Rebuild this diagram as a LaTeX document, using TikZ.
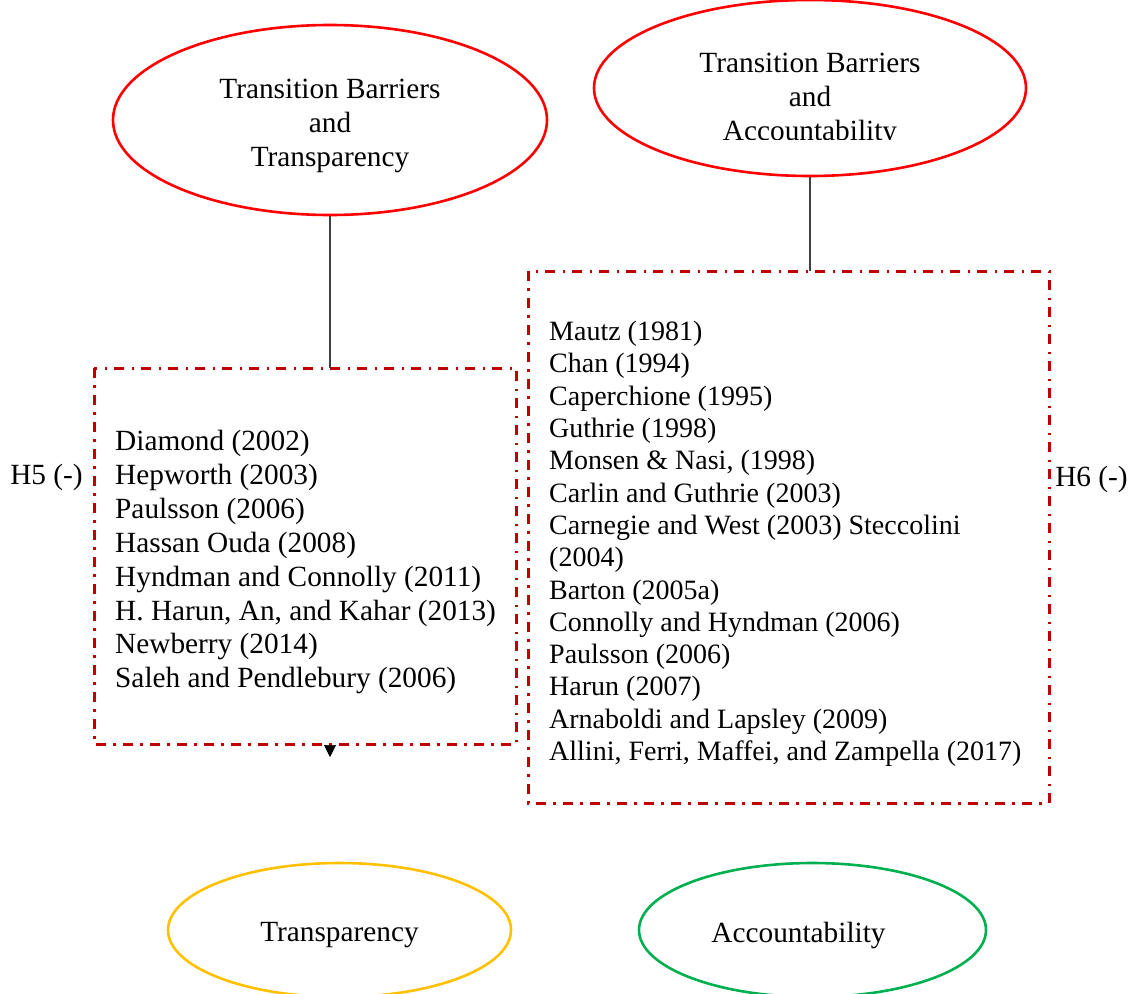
\documentclass[tikz,border=0pt]{standalone}
\usepackage{fontspec}
\setmainfont{Liberation Serif}
\usetikzlibrary{arrows.meta,shapes.geometric}
\definecolor{ovalred}{HTML}{FF0000}
\definecolor{boxred}{HTML}{C00000}
\definecolor{ovalgold}{HTML}{FFC000}
\definecolor{ovalgreen}{HTML}{00B050}
\definecolor{linkgray}{HTML}{404040}
\tikzset{
  oval/.style={ellipse, draw, line width=2.6pt, inner sep=0pt},
  litbox/.style={draw=boxred, line width=3pt, dash pattern=on 10pt off 7pt on 2.5pt off 7.5pt},
  link/.style={draw=linkgray, line width=1.4pt},
  txt/.style={inner sep=0pt, font=\fontsize{29.3}{34}\selectfont},
  lst/.style={inner sep=0pt, align=left, anchor=north west},
}
\begin{document}
\begin{tikzpicture}[x=1pt, y=-1pt]
\useasboundingbox (0,0) rectangle (1137,993);

% hypothesis ovals
\node[oval, draw=ovalred, minimum width=434pt, minimum height=190pt] (tbt) at (330,120) {};
\node[txt, align=center] (tbtText) at (330,125.5) {Transition Barriers\\and\\Transparency};

\node[oval, draw=ovalred, minimum width=432pt, minimum height=176pt] (tba) at (810,88) {};
\begin{scope}
  \clip (594,0) rectangle (1026,139);
  \node[txt, align=center] (tbaText) at (810,99.5) {Transition Barriers\\and\\Accountability};
\end{scope}

% literature boxes
\draw[litbox] (94,368) rectangle (516,744);
\coordinate (b1top) at (330,368);
\coordinate (b1bot) at (330,745);
\node[lst, font=\fontsize{29.3}{33.9}\selectfont] (list1) at (115,430) {Diamond (2002)\\Hepworth (2003)\\Paulsson (2006)\\Hassan Ouda (2008)\\Hyndman and Connolly (2011)\\H. Harun, An, and Kahar (2013)\\Newberry (2014)\\Saleh and Pendlebury (2006)};

\draw[litbox] (528,271) rectangle (1049,803);
\coordinate (b2top) at (810,271);
\node[lst, font=\fontsize{28}{32.3}\selectfont] (list2) at (549,321) {Mautz (1981)\\Chan (1994)\\Caperchione (1995)\\Guthrie (1998)\\Monsen \& Nasi, (1998)\\Carlin and Guthrie (2003)\\Carnegie and West (2003) Steccolini\\(2004)\\Barton (2005a)\\Connolly and Hyndman (2006)\\Paulsson (2006)\\Harun (2007)\\Arnaboldi and Lapsley (2009)\\Allini, Ferri, Maffei, and Zampella (2017)};

% hypothesis labels
\node[txt] (h5) at (46.5,477) {H5 (-)};
\node[txt] (h6) at (1091.5,479) {H6 (-)};

% connectors
\draw[link] (tbt.south) -- (b1top);
\draw[link] (tba.south) -- (b2top);
\coordinate (tip) at (330,757);
\draw[-{Triangle[width=12pt,length=12pt]}, line width=0.6pt, black] (b1bot) -- (tip);

% outcome ovals
\node[oval, draw=ovalgold, minimum width=343pt, minimum height=134pt] (tr) at (339.5,930) {};
\node[txt] (trText) at (339.5,935) {Transparency};
\node[oval, draw=ovalgreen, minimum width=347pt, minimum height=134pt] (ac) at (812.5,930) {};
\node[txt] (acText) at (798.5,935) {Accountability};
\end{tikzpicture}
\end{document}
